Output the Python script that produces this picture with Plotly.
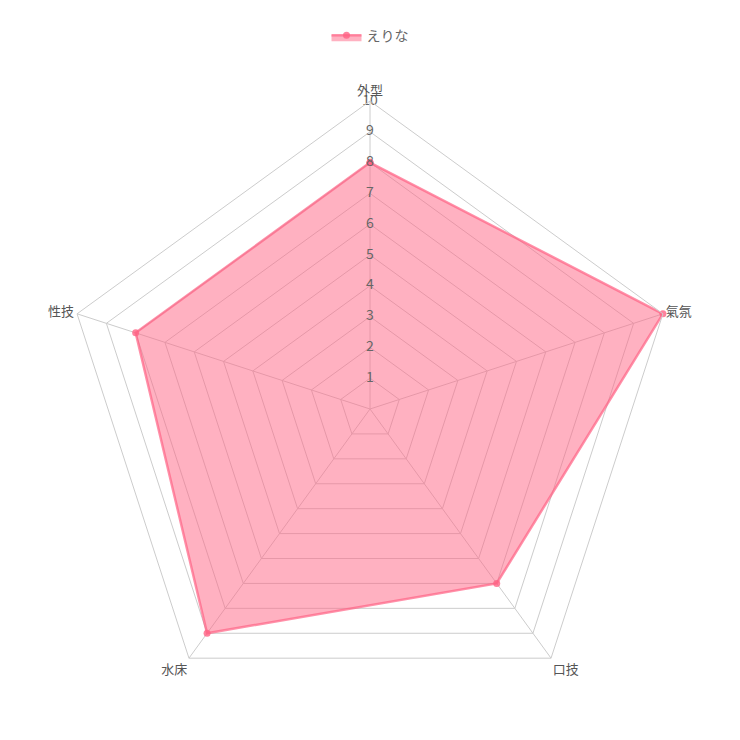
import plotly.graph_objects as go

categories = ["外型", "氣氛", "口技", "水床", "性技"]
values = [8, 10, 7, 9, 8]
series_name = "えりな"
ticks = [1, 2, 3, 4, 5, 6, 7, 8, 9, 10]

fig = go.Figure()
fig.add_trace(go.Scatterpolar(
    r=values + values[:1], theta=categories + categories[:1],
    name=series_name, fill="toself",
    fillcolor="rgba(255,99,132,0.5)",
    line=dict(color="rgba(255,99,132,0.7)", width=2.5),
    marker=dict(size=7, color="rgba(255,99,132,0.8)"),
    mode="lines+markers",
))
fig.add_trace(go.Scatterpolar(
    r=ticks, theta=[categories[0]] * len(ticks),
    text=[str(t) for t in ticks], mode="text",
    textfont=dict(size=14, color="#666"), textposition="middle center",
    showlegend=False, hoverinfo="skip",
))
fig.update_layout(
    width=740, height=740,
    paper_bgcolor="white", plot_bgcolor="white",
    margin=dict(l=35, r=51, t=55, b=31),
    font=dict(family="Noto Sans CJK JP", color="#666", size=12),
    showlegend=True,
    legend=dict(orientation="h", x=0.5, xanchor="center", y=1.08, yanchor="bottom",
                font=dict(size=14, color="#666")),
    polar=dict(
        gridshape="linear", bgcolor="white",
        angularaxis=dict(direction="clockwise", rotation=90,
                         gridcolor="#ccc", linecolor="#ccc",
                         tickfont=dict(size=13, color="#555"), ticks=""),
        radialaxis=dict(range=[0, 10], tickvals=ticks, angle=90,
                        showticklabels=False,
                        gridcolor="#ccc", linecolor="rgba(0,0,0,0)",
                        ticks="", showline=False),
    ),
)
fig.write_html("out.html")
